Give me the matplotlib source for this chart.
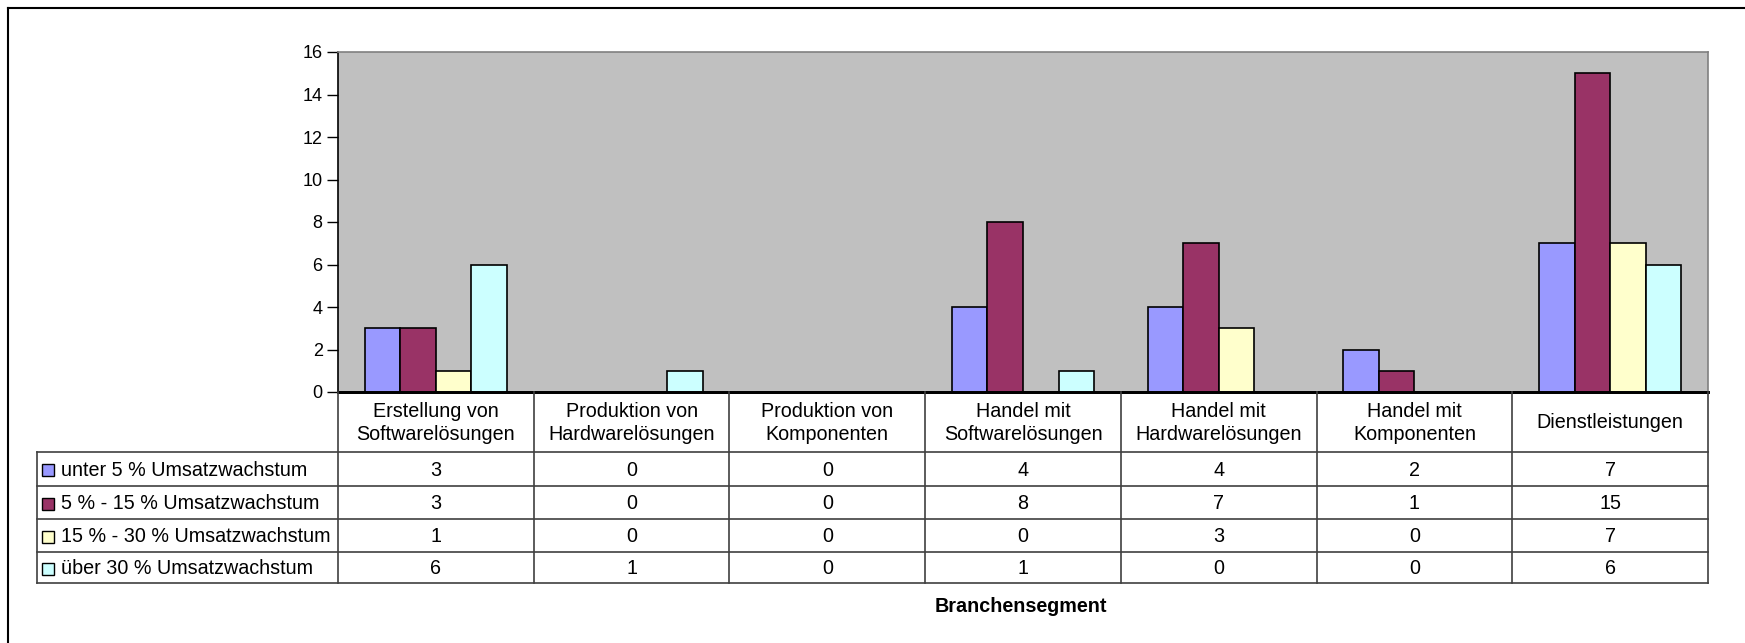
import matplotlib
matplotlib.use('Agg')
import matplotlib.pyplot as plt
from matplotlib.patches import Rectangle
import numpy as np

plt.rcParams['font.family'] = ['Liberation Sans', 'DejaVu Sans']

# Data
categories = ['Erstellung von\nSoftwarelösungen', 'Produktion von\nHardwarelösungen',
              'Produktion von\nKomponenten', 'Handel mit\nSoftwarelösungen',
              'Handel mit\nHardwarelösungen', 'Handel mit\nKomponenten', 'Dienstleistungen']
series_names = ['unter 5 % Umsatzwachstum', '5 % - 15 % Umsatzwachstum',
                '15 % - 30 % Umsatzwachstum', 'über 30 % Umsatzwachstum']
unter_5 = [3, 0, 0, 4, 4, 2, 7]
von_5_bis_15 = [3, 0, 0, 8, 7, 1, 15]
von_15_bis_30 = [1, 0, 0, 0, 3, 0, 7]
ueber_30 = [6, 1, 0, 1, 0, 0, 6]
series = [unter_5, von_5_bis_15, von_15_bis_30, ueber_30]
colors = ['#9999FF', '#993366', '#FFFFCC', '#CCFFFF']
x_title = 'Branchensegment'

W, H = 1745, 643
fig = plt.figure(figsize=(W / 100, H / 100), dpi=100)

# pixel layout
left, right, top, bottom = 338, 1708, 52, 392
tab_left = 37
row_lines = [392, 452, 486, 519, 552, 583]

ax = fig.add_axes([left / W, 1 - bottom / H, (right - left) / W, (bottom - top) / H])
ax.set_facecolor('#C0C0C0')

n = len(categories)
x = np.arange(n)
w = 1 / 5.5
for i, vals in enumerate(series):
    ax.bar(x + (i - 1.5) * w, vals, width=w, color=colors[i], edgecolor='black',
           linewidth=1.2, zorder=3)

ax.set_xlim(-0.5, n - 0.5)
ax.set_ylim(0, 16)
ax.set_yticks(range(0, 17, 2))
ax.set_xticks([])
ax.tick_params(axis='y', labelsize=13, length=8, width=1, direction='out', pad=3)
for s in ['top', 'right']:
    ax.spines[s].set_color('#808080')
    ax.spines[s].set_linewidth(1.2)
ax.spines['left'].set_linewidth(1.2)
ax.spines['bottom'].set_linewidth(2)

# overlay in pixel coords for the data table
ov = fig.add_axes([0, 0, 1, 1])
ov.set_xlim(0, W)
ov.set_ylim(H, 0)
ov.axis('off')
ov.patch.set_alpha(0)

colw = (right - left) / n
lc = '#404040'
# horizontal lines
ov.plot([left, right], [row_lines[0], row_lines[0]], color='black', lw=2)
for y in row_lines[1:]:
    ov.plot([tab_left, right], [y, y], color=lc, lw=1.2)
# vertical lines
for j in range(n + 1):
    xx = left + j * colw
    ov.plot([xx, xx], [row_lines[0], row_lines[-1]], color=lc, lw=1.2)
ov.plot([tab_left, tab_left], [row_lines[1], row_lines[-1]], color=lc, lw=1.2)

fs = 14.2
for j, cat in enumerate(categories):
    ov.text(left + (j + 0.5) * colw, (row_lines[0] + row_lines[1]) / 2 + 1, cat,
            ha='center', va='center', fontsize=fs, linespacing=1.25)

for i, name in enumerate(series_names):
    yc = (row_lines[i + 1] + row_lines[i + 2]) / 2
    ov.add_patch(Rectangle((42, yc - 5), 12, 12, facecolor=colors[i],
                           edgecolor='black', lw=1))
    ov.text(61, yc + 1, name, ha='left', va='center', fontsize=fs)
    for j, v in enumerate(series[i]):
        ov.text(left + (j + 0.5) * colw, yc + 1, str(v), ha='center', va='center',
                fontsize=fs)

ov.text(1021, 606, x_title, ha='center', va='center',
        fontsize=fs, fontweight='bold')

# outer chart frame (cut off at right and bottom)
ov.plot([8, W], [8, 8], color='black', lw=1.5)
ov.plot([8, 8], [8, H], color='black', lw=1.5)

fig.savefig('out.png', dpi=100)
